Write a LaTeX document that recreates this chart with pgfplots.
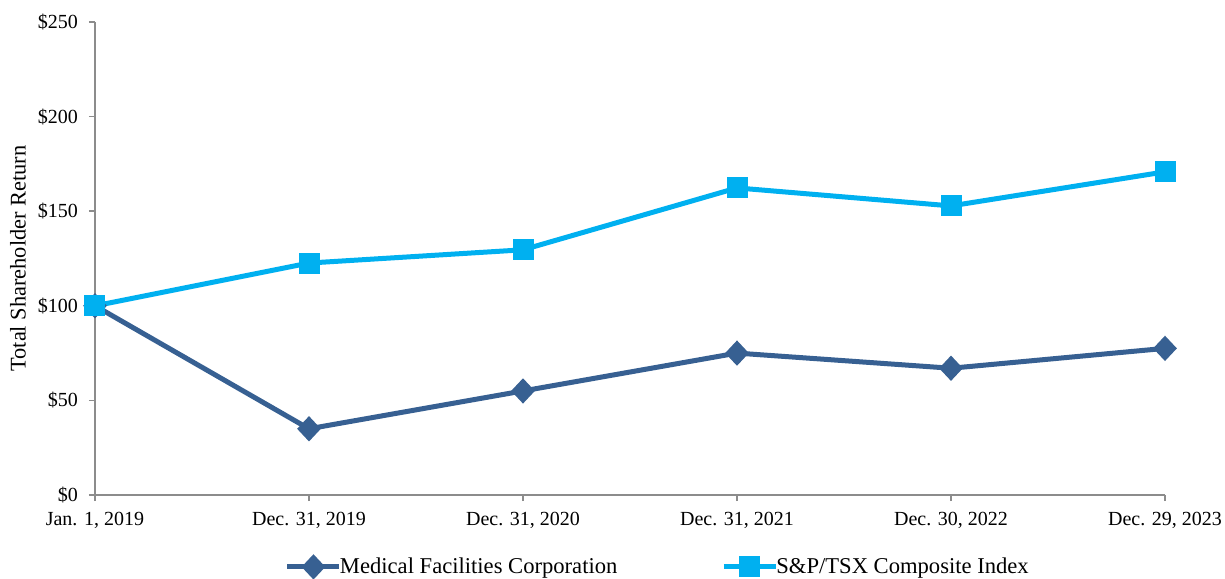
\documentclass[border=0pt]{standalone}
\usepackage{pgfplots}
\pgfplotsset{compat=1.18}
\usepackage{fontspec}
\setmainfont{Liberation Serif}
\definecolor{mfc}{HTML}{376092}
\definecolor{tsx}{HTML}{00B0F0}
\definecolor{axgray}{HTML}{8C8C8C}
\begin{document}
\fontsize{10}{12}\selectfont
\begin{tikzpicture}
\useasboundingbox (-47.5pt,-41.5pt) rectangle (565pt,247.5pt);
\begin{axis}[
  at={(0,0)}, anchor=south west,
  scale only axis, width=535pt, height=236.5pt,
  xmin=0, xmax=5, ymin=0, ymax=250,
  axis lines=left,
  axis line style={axgray, line width=0.8pt, -},
  tick style={axgray, line width=0.8pt},
  tick align=outside, major tick length=3pt,
  xtick={0,1,2,3,4,5},
  xticklabels={{Jan. 1, 2019}, {Dec. 31, 2019}, {Dec. 31, 2020}, {Dec. 31, 2021}, {Dec. 30, 2022}, {Dec. 29, 2023}},
  ytick={0,50,100,150,200,250},
  yticklabels={\$0,\$50,\$100,\$150,\$200,\$250},
  ticklabel style={font=\fontsize{10}{12}\selectfont, text=black},
  xticklabel style={yshift=-2pt},
  yticklabel style={xshift=-2pt},
  ylabel={Total Shareholder Return},
  ylabel style={at={(axis description cs:-0.072,0.5)}, anchor=center, font=\fontsize{11.2}{13}\selectfont},
  clip=false,
  legend columns=2,
  legend style={draw=none, at={(axis description cs:0.527,-0.152)}, anchor=center,
    font=\fontsize{11.3}{13}\selectfont, /tikz/every even column/.append style={column sep=50pt},
    inner sep=0pt, cells={anchor=west}},
  legend image code/.code={\draw[mark repeat=2,mark phase=2] plot coordinates {(0pt,0pt)(13pt,0pt)(26pt,0pt)};},
]
\addplot[mfc, line width=2.5pt, mark=diamond*, mark size=4.5pt, mark options={xscale=1.25, solid, fill=mfc}]
  coordinates {(0,100) (1,35) (2,55) (3,75) (4,67) (5,77.5)};
\addlegendentry{\hspace{-3pt}Medical Facilities Corporation}
\addplot[tsx, line width=2.5pt, mark=square*, mark size=4pt, mark options={solid, fill=tsx, rounded corners=1pt}]
  coordinates {(0,100) (1,122.6) (2,129.6) (3,162.3) (4,152.8) (5,170.8)};
\addlegendentry{\hspace{-3pt}S\&P/TSX Composite Index}
\end{axis}
\end{tikzpicture}
\end{document}
